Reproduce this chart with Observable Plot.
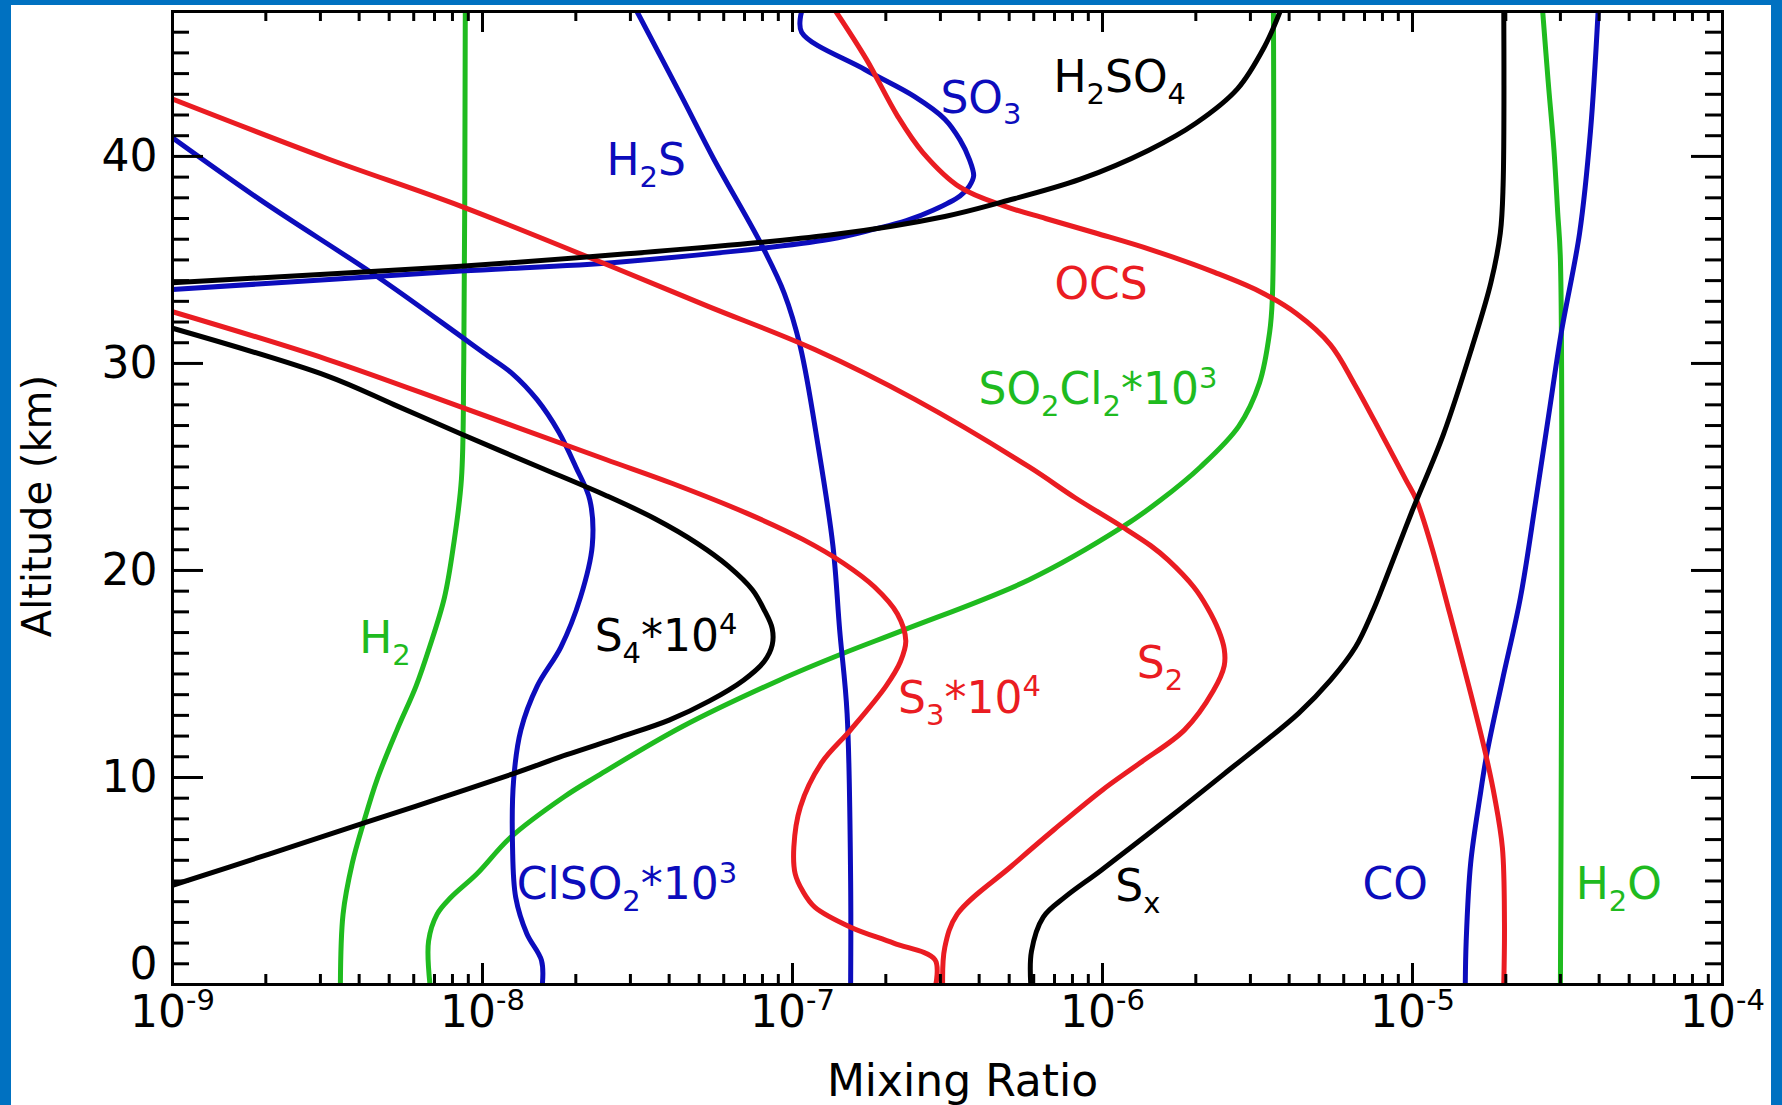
<!DOCTYPE html>
<html><head><meta charset="utf-8">
<script src="https://cdn.jsdelivr.net/npm/d3@7"></script>
<script src="https://cdn.jsdelivr.net/npm/@observablehq/plot@0.6"></script>
<style>
html,body{margin:0;padding:0;background:#0071c1;width:1782px;height:1105px;overflow:hidden}
#panel{position:absolute;left:11px;top:5px;width:1760px;height:1100px;background:#fff}
</style></head><body><div id="panel"></div>
<script>
// ---- profiles: [altitude km, mixing ratio] ----
const H2 = [[0,3.48e-9],[3.4,3.55e-9],[5.85,3.8e-9],[7.8,4.13e-9],[9.9,4.57e-9],[12.3,5.3e-9],[14.4,6.1e-9],[16.3,6.75e-9],[18.7,7.54e-9],[21.2,8.06e-9],[24.4,8.55e-9],[30,8.7e-9],[47,8.8e-9]];
const SO2Cl2 = [[0,6.77e-9],[2.1,6.7e-9],[3.4,7.14e-9],[4.2,7.9e-9],[5.35,9.6e-9],[7.1,1.23e-8],[9.06,1.83e-8],[10.04,2.33e-8],[12.45,4.4e-8],[14.7,9.06e-8],[16.0,1.46e-7],[17.13,2.29e-7],[19.55,5.8e-7],[22.1,1.16e-6],[23.4,1.54e-6],[25.0,2.07e-6],[26.96,2.75e-6],[29.06,3.21e-6],[31.5,3.46e-6],[33.1,3.53e-6],[47,3.56e-6]];
const H2O = [[0,3.0e-5],[35,3.0e-5],[37.3,2.94e-5],[40.3,2.86e-5],[43.6,2.74e-5],[47,2.63e-5]];
const CO = [[0,1.48e-5],[2.1,1.49e-5],[5.85,1.54e-5],[9.06,1.65e-5],[11.2,1.74e-5],[14.7,1.95e-5],[18.7,2.23e-5],[23.4,2.5e-5],[27.5,2.75e-5],[31.5,3.02e-5],[36.3,3.46e-5],[41.2,3.75e-5],[47,3.97e-5]];
const ClSO2 = [[0,1.56e-8],[1.16,1.55e-8],[2.45,1.39e-8],[4.2,1.28e-8],[6.64,1.25e-8],[9.87,1.26e-8],[12.3,1.33e-8],[14.4,1.5e-8],[16.3,1.79e-8],[18.7,2.07e-8],[21.2,2.26e-8],[23.4,2.22e-8],[25.0,2.0e-8],[26.7,1.76e-8],[28.25,1.5e-8],[29.5,1.25e-8],[30.5,1.01e-8],[31.5,8.18e-9],[34.2,4.57e-9],[37.9,1.92e-9],[40.9,1e-9]];
const H2S = [[0,1.54e-7],[5.0,1.54e-7],[13.1,1.5e-7],[17.1,1.42e-7],[21.2,1.35e-7],[26.0,1.21e-7],[30.8,1.06e-7],[33.4,9.4e-8],[35.8,7.9e-8],[39.9,5.56e-8],[42.8,4.42e-8],[47,3.15e-8]];
const SO3 = [[33.57,1e-9],[34.46,8.5e-9],[34.9,2.79e-8],[36.0,1.32e-7],[36.5,1.85e-7],[36.9,2.33e-7],[37.4,2.84e-7],[38.09,3.47e-7],[38.57,3.72e-7],[39.06,3.84e-7],[39.86,3.72e-7],[40.8,3.47e-7],[41.8,3.1e-7],[42.9,2.47e-7],[44.2,1.71e-7],[46.0,1.07e-7],[47,1.07e-7]];
const OCS = [[0,1.97e-5],[3,1.98e-5],[6.6,1.95e-5],[9.06,1.84e-5],[11.16,1.72e-5],[14.4,1.52e-5],[17.9,1.32e-5],[21.2,1.15e-5],[23.4,1.03e-5],[24.4,9.5e-6],[26.6,7.94e-6],[29.0,6.5e-6],[30.9,5.44e-6],[32.4,4.23e-6],[33.5,3.19e-6],[34.4,2.3e-6],[35.5,1.43e-6],[36.3,9.5e-7],[37.0,6.55e-7],[37.6,4.83e-7],[38.5,3.48e-7],[40.2,2.63e-7],[41.96,2.18e-7],[44.7,1.73e-7],[47,1.38e-7]];
const S2 = [[0,3.05e-7],[1.8,3.1e-7],[3.4,3.4e-7],[5.7,5.07e-7],[7.5,7.0e-7],[9.4,1.0e-6],[10.7,1.32e-6],[12.3,1.84e-6],[14.2,2.28e-6],[15.4,2.47e-6],[16.2,2.47e-6],[17.1,2.37e-6],[18.2,2.18e-6],[19.2,1.97e-6],[20.5,1.63e-6],[21.2,1.43e-6],[22.1,1.16e-6],[23.5,8.18e-7],[25.0,5.8e-7],[28.25,2.49e-7],[30.67,1.18e-7],[32.77,5.32e-8],[34.5,2.79e-8],[37.6,8.5e-9],[39.9,3.15e-9],[42.77,1e-9]];
const S3 = [[0,2.9e-7],[1.2,2.88e-7],[2.0,2.12e-7],[2.77,1.54e-7],[3.74,1.18e-7],[4.5,1.08e-7],[5.35,1.02e-7],[6.64,1.01e-7],[8.58,1.06e-7],[10.7,1.24e-7],[12.3,1.54e-7],[14.4,2.0e-7],[15.6,2.23e-7],[16.6,2.32e-7],[17.9,2.18e-7],[19.2,1.84e-7],[20.35,1.46e-7],[21.5,1.08e-7],[22.77,7.11e-8],[24.2,4.1e-8],[25.36,2.5e-8],[27.9,8.5e-9],[30.2,3.15e-9],[32.5,1e-9]];
const S4 = [[4.79,1e-9],[6.3,2.05e-9],[7.85,4.25e-9],[9.0,7.3e-9],[10.19,1.26e-8],[11.1,1.87e-8],[11.96,2.79e-8],[12.77,4.0e-8],[13.7,5.4e-8],[14.7,6.95e-8],[15.6,8.1e-8],[16.4,8.6e-8],[17.2,8.6e-8],[18.1,8.1e-8],[19.06,7.43e-8],[20.2,6.22e-8],[21.3,4.94e-8],[22.5,3.6e-8],[23.6,2.52e-8],[25.0,1.52e-8],[26.6,8.5e-9],[28.0,5.2e-9],[29.4,3.15e-9],[31.7,1e-9]];
const H2SO4 = [[33.9,1e-9],[34.7,8.5e-9],[35.27,2.79e-8],[36.2,1.32e-7],[37.1,3.1e-7],[37.8,4.75e-7],[38.9,8.49e-7],[40.3,1.41e-6],[41.6,2.0e-6],[43.25,2.72e-6],[45.3,3.33e-6],[47,3.74e-6]];
const Sx = [[0,5.87e-7],[1.6,5.9e-7],[3.26,6.44e-7],[4.22,7.56e-7],[5.5,9.86e-7],[7.93,1.6e-6],[10.2,2.48e-6],[13.1,4.29e-6],[14.7,5.44e-6],[16.3,6.55e-6],[18.0,7.43e-6],[19.55,8.18e-6],[22.8,9.93e-6],[26.6,1.26e-5],[30.7,1.55e-5],[33.9,1.79e-5],[36.3,1.92e-5],[38.6,1.96e-5],[47,1.97e-5]];

// ---- series names and colours ----
const RED = "#ea1c22", GREEN = "#1fbb1f", BLUE = "#0c0cbc", BLACK = "#000000";
const seriesNames  = ["H2","SO2Cl2","H2O","CO","ClSO2","H2S","SO3","OCS","S2","S3","S4","H2SO4","Sx"];
const seriesData   = [H2, SO2Cl2, H2O, CO, ClSO2, H2S, SO3, OCS, S2, S3, S4, H2SO4, Sx];
const seriesColors = [GREEN, GREEN, GREEN, BLUE, BLUE, BLUE, BLUE, RED, RED, RED, BLACK, BLACK, BLACK];

// ---- curve labels ----
const labelTexts  = ["H₂SO₄","SO₃","H₂S","OCS","SO₂Cl₂*10³","H₂","S₄*10⁴","S₃*10⁴","S₂","ClSO₂*10³","Sₓ","CO","H₂O"];
const labelX      = [6.95e-7, 3.0e-7, 2.51e-8, 7.0e-7, 3.98e-7, 4.0e-9, 2.3e-8, 2.19e-7, 1.29e-6, 1.29e-8, 1.1e-6, 6.9e-6, 3.36e-5];
const labelAlt    = [43.8, 42.8, 39.8, 33.8, 28.7, 16.7, 16.8, 13.8, 15.5, 4.8, 4.7, 4.8, 4.8];
const labelColors = [BLACK, BLUE, BLUE, RED, GREEN, GREEN, BLACK, RED, RED, BLUE, BLACK, BLUE, GREEN];

// ---- axes ----
const xMajor = [1e-9, 1e-8, 1e-7, 1e-6, 1e-5, 1e-4];
const xTickLabels = ["10⁻⁹","10⁻⁸","10⁻⁷","10⁻⁶","10⁻⁵","10⁻⁴"];
const xDecades = [-9, -8, -7, -6, -5];
const xMantissas = [2, 3, 4, 5, 6, 7, 8, 9];
const yMajor = [0, 10, 20, 30, 40];
const yLabelled = [10, 20, 30, 40];
const yMinor = d3.range(1, 48).filter(v => v % 10 !== 0);

const xMinor = xDecades.flatMap(e => xMantissas.map(m => m * Math.pow(10, e)));

const rows = seriesNames.flatMap((name, i) => seriesData[i].map(([alt, v]) => ({name, alt, v})));
const labels = labelTexts.map((t, i) => ({t, x: labelX[i], alt: labelAlt[i], c: labelColors[i]}));

const FH = 973, FW = 1550; // frame size in px
const marks = [];
seriesNames.forEach((name, i) => {
  marks.push(Plot.line(rows.filter(r => r.name === name), {
    x: "v", y: "alt", stroke: seriesColors[i], strokeWidth: 5,
    curve: "catmull-rom", clip: true, strokeLinejoin: "round"
  }));
});
// inward ticks on all four sides
marks.push(
  Plot.tickX(xMajor, {x: d => d, insetTop: FH - 21, strokeWidth: 3}),
  Plot.tickX(xMajor, {x: d => d, insetBottom: FH - 21, strokeWidth: 3}),
  Plot.tickX(xMinor, {x: d => d, insetTop: FH - 10, strokeWidth: 3}),
  Plot.tickX(xMinor, {x: d => d, insetBottom: FH - 10, strokeWidth: 3}),
  Plot.tickY(yMajor, {y: d => d, insetRight: FW - 31, strokeWidth: 3}),
  Plot.tickY(yMajor, {y: d => d, insetLeft: FW - 31, strokeWidth: 3}),
  Plot.tickY(yMinor, {y: d => d, insetRight: FW - 17, strokeWidth: 3}),
  Plot.tickY(yMinor, {y: d => d, insetLeft: FW - 17, strokeWidth: 3}),
  Plot.frame({stroke: "black", strokeWidth: 3}),
  Plot.axisX({anchor: "bottom", ticks: xMajor, tickSize: 0, tickPadding: 11,
    tickFormat: d => xTickLabels[xMajor.indexOf(d)], label: null}),
  Plot.axisY({anchor: "left", ticks: yLabelled, tickSize: 0, tickPadding: 15, tickFormat: d => String(d), label: null}),
  Plot.axisY({anchor: "left", ticks: [0], tickSize: 0, tickPadding: 15, tickFormat: d => String(d), label: null, dy: -20}),
  Plot.text(["Mixing Ratio"], {text: d => d, frameAnchor: "bottom", dy: 111, dx: 15, lineAnchor: "bottom", textAnchor: "middle"}),
  Plot.text(["Altitude (km)"], {text: d => d, frameAnchor: "left", rotate: -90, dx: -134, dy: 8, fontSize: 40, textAnchor: "middle", lineAnchor: "middle"}),
  Plot.text(labels, {x: "x", y: "alt", text: "t", fill: "c", textAnchor: "start", lineAnchor: "middle"})
);

const chart = Plot.plot({
  width: 1760, height: 1100,
  marginLeft: 161, marginRight: 49, marginTop: 6, marginBottom: 121,
  x: {type: "log", domain: [1e-9, 1e-4]},
  y: {domain: [0, 47]},
  style: {fontFamily: "DejaVu Sans", fontSize: "44px", background: "white", color: "black", overflow: "visible"},
  marks
});
document.getElementById("panel").appendChild(chart);

// typeset sub/superscript characters as smaller, shifted tspans
const SUB = {"₀":"0","₁":"1","₂":"2","₃":"3","₄":"4","₅":"5","₆":"6","₇":"7","₈":"8","₉":"9","ₓ":"x"};
const SUP = {"⁰":"0","¹":"1","²":"2","³":"3","⁴":"4","⁵":"5","⁶":"6","⁷":"7","⁸":"8","⁹":"9","⁻":"-"};
chart.querySelectorAll("text").forEach(t => {
  const s = t.textContent;
  if (![...s].some(c => SUB[c] || SUP[c])) return;
  const fs = parseFloat(getComputedStyle(t).fontSize) || 44;
  const runs = [];
  for (const c of s) {
    const k = SUB[c] ? "sub" : SUP[c] ? "sup" : "n";
    const ch = SUB[c] || SUP[c] || c;
    if (runs.length && runs[runs.length - 1].k === k) runs[runs.length - 1].s += ch;
    else runs.push({k, s: ch});
  }
  t.textContent = "";
  let cur = 0;
  for (const r of runs) {
    const ts = document.createElementNS("http://www.w3.org/2000/svg", "tspan");
    const target = r.k === "sub" ? 0.27 * fs : r.k === "sup" ? -0.38 * fs : 0;
    if (target !== cur) ts.setAttribute("dy", target - cur);
    cur = target;
    if (r.k !== "n") ts.setAttribute("font-size", (0.66 * fs).toFixed(1));
    ts.textContent = r.s;
    t.appendChild(ts);
  }
});
</script></body></html>
